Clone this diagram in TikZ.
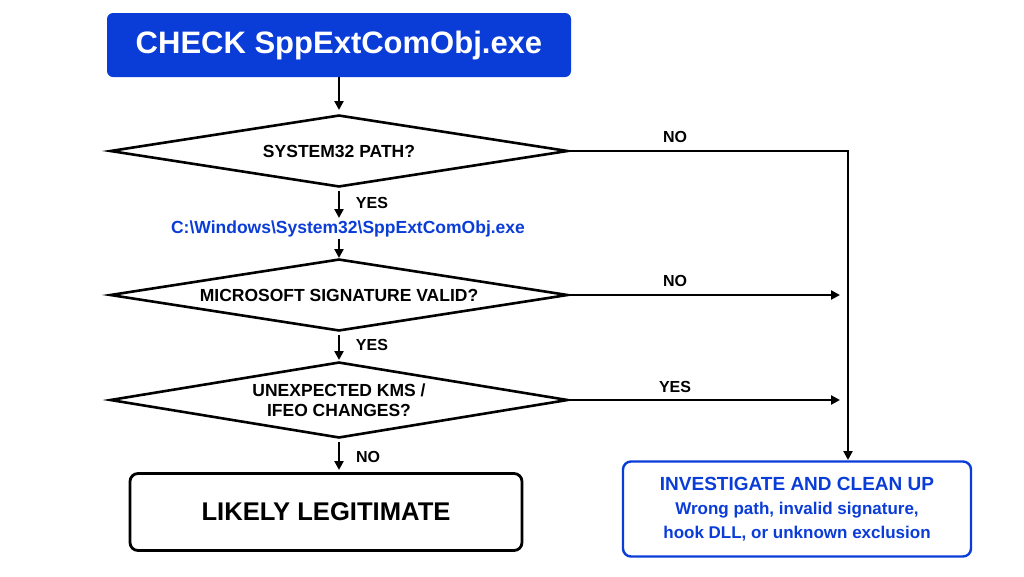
\documentclass[tikz,border=0pt]{standalone}
\usepackage{fontspec}
\setmainfont{Liberation Sans}
\usetikzlibrary{shapes.geometric,arrows.meta}
\definecolor{myblue}{HTML}{0A3CD8}
\begin{document}
\begin{tikzpicture}[x=1pt,y=-1pt,
  dia/.style={draw,line width=2.6pt,diamond,aspect=6.4,inner sep=0pt,minimum width=458pt,minimum height=72pt,font=\bfseries\fontsize{17.5}{20}\selectfont,align=center},
  arr/.style={line width=2.4pt,-{Triangle[length=9pt,width=9pt]}},
  lbl/.style={font=\bfseries\fontsize{16}{18}\selectfont}]
\useasboundingbox (0,0) rectangle (1024,576);
\node[fill=myblue,rounded corners=6pt,minimum width=464pt,minimum height=64pt,text=white,font=\bfseries\fontsize{31}{36}\selectfont] (t) at (339,45) {CHECK SppExtComObj.exe};
\node[dia] (d1) at (339,151) {SYSTEM32 PATH?};
\node[dia] (d2) at (339,295) {MICROSOFT SIGNATURE VALID?};
\node[dia,minimum height=76pt] (d3) at (339,400) {UNEXPECTED KMS /\\IFEO CHANGES?};
\node[draw,line width=2.8pt,rounded corners=8pt,minimum width=392pt,minimum height=77pt,font=\bfseries\fontsize{25.6}{30}\selectfont] (l) at (326,512) {LIKELY LEGITIMATE};
\node[draw=myblue,text=myblue,line width=2.4pt,rounded corners=8pt,minimum width=348pt,minimum height=95pt,align=center,font=\bfseries\fontsize{17}{24}\selectfont] (r) at (797,509) {{\fontsize{19}{24}\selectfont INVESTIGATE AND CLEAN UP}\\Wrong path, invalid signature,\\hook DLL, or unknown exclusion};
\node[text=myblue,font=\bfseries\fontsize{17.5}{20}\selectfont] (p) at (348,229) {C:\textbackslash Windows\textbackslash System32\textbackslash SppExtComObj.exe};
\coordinate (c1) at (848,151);
\coordinate (c2) at (840,295);
\coordinate (c3) at (840,400);
\draw[arr] (t.south) -- (339,110);
\draw[arr] (d1.south) ++(0,3) -- (339,218);
\draw[arr] (339,239) -- (339,258);
\draw[arr] (d2.south) ++(0,3) -- (339,360);
\draw[arr] (d3.south) ++(0,3) -- (339,470);
\draw[arr] (d1.east) -- (c1) -- (848,460);
\draw[arr] (d2.east) -- (c2);
\draw[arr] (d3.east) -- (c3);
\node[lbl] at (675,137) {NO};
\node[lbl] at (675,281) {NO};
\node[lbl] at (675,387) {YES};
\node[lbl] at (372,203) {YES};
\node[lbl] at (372,345) {YES};
\node[lbl] at (368,457) {NO};
\end{tikzpicture}
\end{document}
